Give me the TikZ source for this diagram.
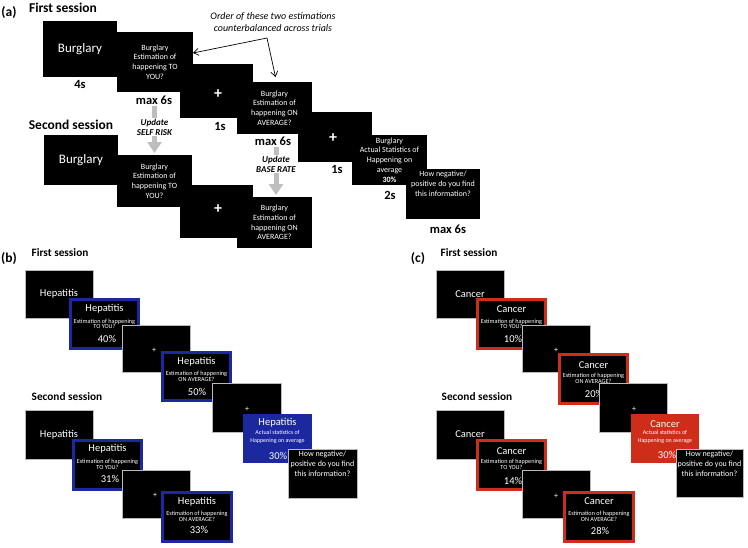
\documentclass[tikz,border=0pt]{standalone}
\usepackage{fontspec}
\setmainfont{Carlito}
\usetikzlibrary{arrows.meta}
\definecolor{myblue}{RGB}{28,40,160}
\definecolor{myred}{RGB}{205,45,25}
\definecolor{arrgray}{RGB}{190,190,190}
\newcommand{\scrn}[6]{\node[#1, minimum width={(#5-#3)*1pt}, minimum height={(#6-#4)*1pt}] (#2) at ({(#3+#5)/2},{(#4+#6)/2}) {};}
\newcommand{\bscrn}[6]{\node[#1, minimum width={(#5-#3-2.6)*1pt}, minimum height={(#6-#4-2.6)*1pt}] (#2) at ({(#3+#5)/2},{(#4+#6)/2}) {};}
\tikzset{
 scr/.style={rectangle, fill=black, draw=none, inner sep=0pt, outer sep=0pt},
 scrg/.style={scr, draw=gray!55, line width=0.6pt},
 bscr/.style={scr, draw=myblue, line width=2.6pt},
 bfill/.style={scr, fill=myblue},
 rscr/.style={scr, draw=myred, line width=2.6pt},
 rfill/.style={scr, fill=myred},
 lbl/.style={inner sep=0pt, font=\fontsize{13.5}{16}\selectfont\bfseries},
 lbls/.style={inner sep=0pt, font=\fontsize{11.3}{13}\selectfont\bfseries},
 tm/.style={inner sep=0pt, font=\fontsize{12.5}{15}\selectfont\bfseries},
 wbig/.style={inner sep=0pt, text=white, font=\fontsize{13}{15}\selectfont},
 wq/.style={inner sep=0pt, text=white, align=center, font=\fontsize{8}{9.8}\selectfont},
 wplus/.style={inner sep=0pt, text=white, font=\fontsize{16}{16}\selectfont\bfseries},
 wplussm/.style={inner sep=0pt, text=white, font=\fontsize{8}{8}\selectfont},
 wt/.style={inner sep=0pt, text=white, font=\fontsize{10.5}{12}\selectfont},
 ws/.style={inner sep=0pt, text=white, align=center, font=\fontsize{6.2}{5.8}\selectfont},
 wss/.style={inner sep=0pt, text=white, align=center, font=\fontsize{6}{7.8}\selectfont},
 ann/.style={inner sep=0pt, align=center, font=\fontsize{10}{12}\selectfont\itshape},
 upd/.style={inner sep=0.8pt, fill=white, align=center, font=\fontsize{9}{10}\selectfont\bfseries\itshape},
 garr/.style={draw=arrgray, line width=5pt, -{Triangle[width=14pt,length=11pt]}},
 notearr/.style={draw=black, line width=0.7pt, -{Straight Barb[length=5pt,width=7pt]}},
}
\begin{document}
\begin{tikzpicture}[x=1pt, y=-1pt]
\path[fill=white, use as bounding box] (0,0) rectangle (748,547);

% ---------------- panel (a) ----------------
\node[lbl] (alab) at (9,13) {(a)};
\node[lbl] (afirst) at (63,8) {First session};
\scrn{scr}{a1}{43}{21}{117}{77}
\node[wbig] (a1t) at (a1) {Burglary};
\node[tm] (a1d) at (80,84) {4s};
\scrn{scr}{a2}{117}{32}{193}{92}
\node[wq] (a2t) at (a2) {Burglary\\Estimation of\\happening TO\\YOU?};
\node[tm] (a2d) at (154,100) {max 6s};
\scrn{scr}{a3}{180}{64}{253}{118}
\node[wplus] (a3t) at (218,94) {+};
\node[tm] (a3d) at (220,126) {1s};
\scrn{scr}{a4}{237}{82}{312}{134}
\node[wq] (a4t) at (a4) {Burglary\\Estimation of\\happening ON\\AVERAGE?};
\node[tm] (a4d) at (273,141) {max 6s};
\scrn{scr}{a5}{298}{112}{372}{162}
\node[wplus] (a5t) at (333,138) {+};
\node[tm] (a5d) at (337,169) {1s};
\scrn{scr}{a6}{352}{135}{427}{185}
\node[wq] (a6t) at (a6) {Burglary\\Actual Statistics of\\Happening on\\average\\\textbf{30\%}};
\node[tm] (a6d) at (390,195) {2s};
\scrn{scr}{a7}{406}{169}{480}{219}
\node[wq, anchor=north] (a7t) at ([yshift=-2pt]a7.north) {How negative/\\positive do you find\\this information?};
\node[tm] (a7d) at (448,229) {max 6s};

\node[ann] (anntext) at (273,22) {Order of these two estimations\\counterbalanced across trials};
\coordinate (split) at (267,38);
\draw[notearr] (split) -- ([yshift=-21pt]a2.north east);
\draw[notearr] (split) -- ([xshift=1pt,yshift=5pt]a4.north);

\node[lbl] (asecond) at (71,125) {Second session};
\scrn{scr}{as1}{44}{135}{118}{185}
\node[wbig] (as1t) at (as1) {Burglary};
\scrn{scr}{as2}{117}{155}{192}{207}
\node[wq] (as2t) at (as2) {Burglary\\Estimation of\\happening TO\\YOU?};
\scrn{scr}{as3}{180}{185}{253}{238}
\node[wplus] (as3t) at (218,209) {+};
\scrn{scr}{as4}{237}{197}{312}{248}
\node[wq] (as4t) at (as4) {Burglary\\Estimation of\\happening ON\\AVERAGE?};

\coordinate (g1s) at (154.5,106);
\draw[garr] (g1s) -- ([yshift=2pt]as2.north);
\node[upd] (g1t) at (154.5,127) {Update\\SELF RISK};
\coordinate (g2s) at (276,147);
\draw[garr] (g2s) -- ([xshift=1.5pt,yshift=2pt]as4.north);
\node[upd] (g2t) at (276,164) {Update\\BASE RATE};

% ---------------- panel (b) ----------------
\node[lbl] (blab) at (9,259) {(b)};
\node[lbls] (bfirst) at (60,253) {First session};
\scrn{scrg}{b1}{25}{270}{93}{318}
\node[wt] (b1t) at (b1) {Hepatitis};
\bscrn{bscr}{b2}{69}{298}{140}{350}
\node[wt] (b2h) at (104.5,309) {Hepatitis};
\node[ws] (b2s) at (104.5,323.8) {Estimation of happening\\TO YOU?};
\node[wt] (b2p) at (107,339) {40\%};
\scrn{scrg}{b3}{122}{325}{190}{372}
\node[wplussm] (b3t) at (154,350) {+};
\bscrn{bscr}{b4}{161}{351}{232}{402}
\node[wt] (b4h) at (196.5,362) {Hepatitis};
\node[ws] (b4s) at (196.5,376) {Estimation of happening\\ON AVERAGE?};
\node[wt] (b4p) at (197,392) {50\%};
\node[lbls] (bsecond) at (67,397) {Second session};
\scrn{scrg}{b5}{212}{383}{281}{432}
\node[wplussm] (b5t) at (247,409) {+};
\scrn{bfill}{b6}{243}{414}{312}{463}
\node[wt] (b6h) at (277.5,423) {Hepatitis};
\node[wss] (b6s) at (277.5,437) {Actual statistics of\\Happening on average};
\node[wt] (b6p) at (278,456) {30\%};
\scrn{scrg}{b7}{288}{449}{357}{498}
\node[wq, anchor=north] (b7t) at ([yshift=-2pt]b7.north) {How negative/\\positive do you find\\this information?};

\scrn{scrg}{bs1}{25}{410}{93}{459}
\node[wt] (bs1t) at (bs1) {Hepatitis};
\bscrn{bscr}{bs2}{72}{439}{143}{491}
\node[wt] (bs2h) at (107.5,449) {Hepatitis};
\node[ws] (bs2s) at (107.5,464) {Estimation of happening\\TO YOU?};
\node[wt] (bs2p) at (110,479) {31\%};
\scrn{scrg}{bs3}{122}{470}{190}{518}
\node[wplussm] (bs3t) at (155,495) {+};
\bscrn{bscr}{bs4}{161}{491}{233}{543}
\node[wt] (bs4h) at (197,502) {Hepatitis};
\node[ws] (bs4s) at (197,516) {Estimation of happening\\ON AVERAGE?};
\node[wt] (bs4p) at (199,530) {33\%};

% ---------------- panel (c) ----------------
\node[lbl] (clab) at (418,259) {(c)};
\node[lbls] (cfirst) at (469,253) {First session};
\scrn{scrg}{c1}{436}{270}{504}{318}
\node[wt] (c1t) at (c1) {Cancer};
\bscrn{rscr}{c2}{476}{298}{547}{350}
\node[wt] (c2h) at (511.5,309) {Cancer};
\node[ws] (c2s) at (511.5,323.8) {Estimation of happening\\TO YOU?};
\node[wt] (c2p) at (513,339) {10\%};
\scrn{scrg}{c3}{522}{325}{590}{372}
\node[wplussm] (c3t) at (556,350) {+};
\bscrn{rscr}{c4}{558}{353}{629}{405}
\node[wt] (c4h) at (593.5,365) {Cancer};
\node[ws] (c4s) at (593.5,378) {Estimation of happening\\ON AVERAGE?};
\node[wt] (c4p) at (594,394) {20\%};
\node[lbls] (csecond) at (477,397) {Second session};
\scrn{scrg}{c5}{599}{383}{667}{432}
\node[wplussm] (c5t) at (634,409) {+};
\scrn{rfill}{c6}{631}{414}{699}{463}
\node[wt] (c6h) at (665,424) {Cancer};
\node[wss] (c6s) at (665,437) {Actual statistics of\\Happening on average};
\node[wt] (c6p) at (667,455) {30\%};
\scrn{scrg}{c7}{676}{449}{743}{497}
\node[wq, anchor=north] (c7t) at ([yshift=-2pt]c7.north) {How negative/\\positive do you find\\this information?};

\scrn{scrg}{cs1}{436}{410}{504}{459}
\node[wt] (cs1t) at (cs1) {Cancer};
\bscrn{rscr}{cs2}{476}{439}{547}{491}
\node[wt] (cs2h) at (511.5,451) {Cancer};
\node[ws] (cs2s) at (511.5,464) {Estimation of happening\\TO YOU?};
\node[wt] (cs2p) at (513,481) {14\%};
\scrn{scrg}{cs3}{522}{470}{590}{518}
\node[wplussm] (cs3t) at (556,496) {+};
\bscrn{rscr}{cs4}{563}{491}{635}{543}
\node[wt] (cs4h) at (599,501) {Cancer};
\node[ws] (cs4s) at (599,516) {Estimation of happening\\ON AVERAGE?};
\node[wt] (cs4p) at (600,531) {28\%};
\end{tikzpicture}
\end{document}
